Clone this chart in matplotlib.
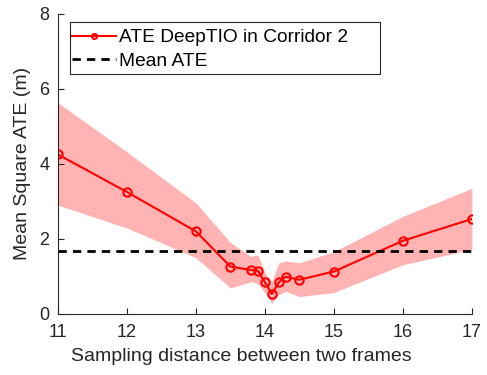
import matplotlib
matplotlib.use("Agg")
import matplotlib.pyplot as plt
from matplotlib.patches import Rectangle

plt.rcParams['font.family'] = ['Liberation Sans', 'DejaVu Sans']

x = [11, 12, 13, 13.5, 13.8, 13.9, 14.0, 14.1, 14.2, 14.3, 14.5, 15, 16, 17]
ate = [4.25, 3.25, 2.2, 1.26, 1.17, 1.15, 0.84, 0.53, 0.84, 0.99, 0.91, 1.13, 1.95, 2.53]
upper = [5.63, 4.32, 2.96, 1.9, 1.53, 1.57, 1.1, 0.85, 1.36, 1.41, 1.36, 1.66, 2.6, 3.35]
lower = [2.9, 2.29, 1.5, 0.69, 0.86, 0.8, 0.56, 0.29, 0.51, 0.6, 0.46, 0.57, 1.31, 1.72]
mean_ate = 1.69

W, H = 487, 375
fig = plt.figure(figsize=(W / 100, H / 100), dpi=100)
ax = fig.add_axes([0.119, 0.163, 0.850, 0.800])

ax.fill_between(x, lower, upper, color='#ffb3b3', linewidth=0)
ax.plot(x, ate, '-o', color='red', lw=1.5, ms=6, mfc='none', mew=1.5,
        label='ATE DeepTIO in Corridor 2')
ax.plot([x[0], x[-1]], [mean_ate, mean_ate], '--', color='black', lw=2,
        label='Mean ATE', dashes=(3, 2.2))

ax.set_xlim(11, 17)
ax.set_ylim(0, 8)
ax.set_xticks([11, 12, 13, 14, 15, 16, 17])
ax.set_yticks([0, 2, 4, 6, 8])
for s in ['top', 'right']:
    ax.spines[s].set_visible(False)
for s in ['left', 'bottom']:
    ax.spines[s].set_color('#262626')
    ax.spines[s].set_linewidth(0.8)
ax.tick_params(direction='in', length=4, width=0.8, color='#262626',
               labelsize=13, labelcolor='#262626')
ax.tick_params(axis='x', pad=7)
ax.tick_params(axis='y', pad=6)
ax.set_xlabel('Sampling distance between two frames', fontsize=14,
              color='#262626', labelpad=4)
ax.xaxis.set_label_coords(0.442, -0.115)
ax.set_ylabel('Mean Square ATE (m)', fontsize=14, color='#262626', labelpad=6)

# legend box (drawn manually to match the wide frame)
fig.patches.append(Rectangle((70 / W, 1 - 74 / H), 310 / W, 52 / H,
                             transform=fig.transFigure, facecolor='white',
                             edgecolor='#262626', linewidth=0.8, zorder=5))
leg = fig.legend(*ax.get_legend_handles_labels(), loc='upper left',
                 bbox_to_anchor=(72 / W, 1 - 29 / H), fontsize=13.8,
                 frameon=False, handlelength=2.3, borderpad=0,
                 labelspacing=0.3, handletextpad=0.15, borderaxespad=0,
                 markerscale=0.6)
leg.set_zorder(6)

fig.savefig('out.png', dpi=100)
